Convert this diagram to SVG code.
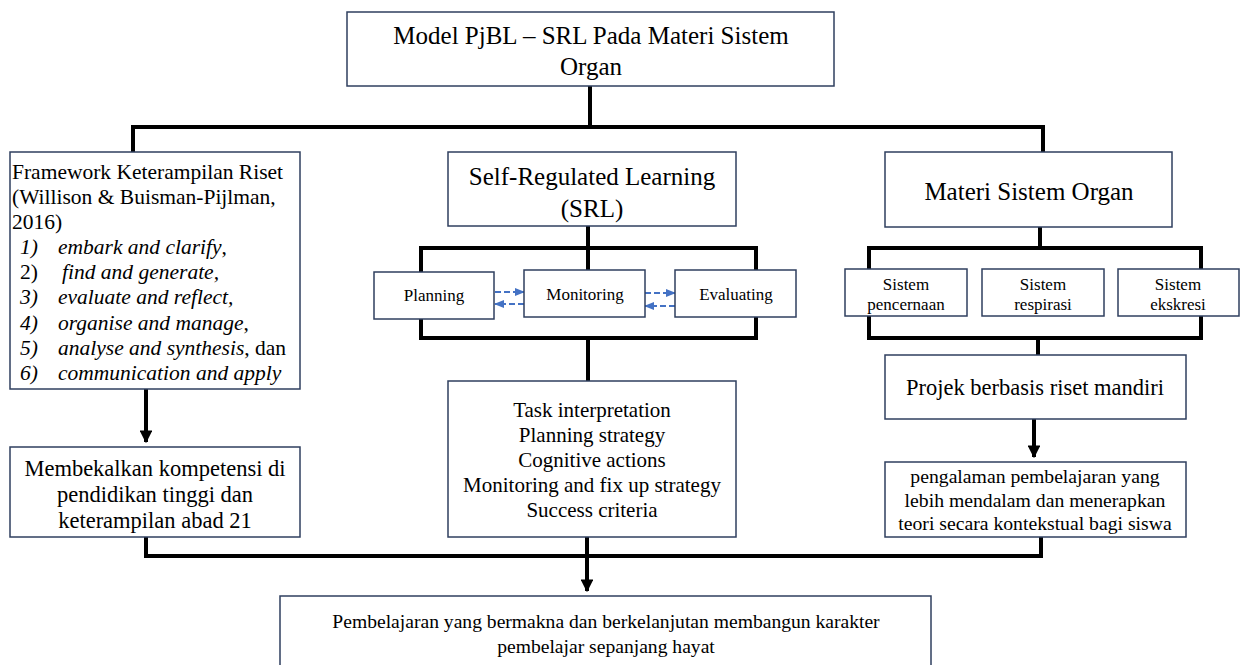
<svg xmlns="http://www.w3.org/2000/svg" width="1246" height="665" viewBox="0 0 1246 665" font-family="'Liberation Serif', 'Times New Roman', serif">
<style>
.box{fill:#fff;stroke:#2f3f5f;stroke-width:1.5}
text{font-family:'Liberation Serif','Times New Roman',serif;fill:#000}
.c{text-anchor:middle}
.i{font-style:italic}
.con{fill:none;stroke:#000;stroke-width:4}
.dash{fill:none;stroke:#4472c4;stroke-width:2;stroke-dasharray:6,3}
</style>
<defs>
<marker id="ah" viewBox="0 0 10 10" refX="9" refY="5" markerWidth="3.2" markerHeight="3.2" orient="auto" markerUnits="strokeWidth"><path d="M0,0L10,5L0,10z" fill="#000"/></marker>
<marker id="bh" viewBox="0 0 10 10" refX="9" refY="5" markerWidth="5" markerHeight="5" orient="auto" markerUnits="strokeWidth"><path d="M0,1L10,5L0,9z" fill="#4472c4"/></marker>
</defs>
<rect width="1246" height="665" fill="#fff"/>
<g id="connectors">
<path class="con" d="M590,86V127M133,127H1043M133,125V152M1043,125V152"/>
<path class="con" d="M146,389V442" marker-end="url(#ah)"/>
<path class="con" d="M588,226V248M421,248H756M421,246V272M588,246V270M756,246V270"/>
<path class="con" d="M421,319V338H756V317M588,338V381"/>
<path class="con" d="M1040,227V248M869,248H1201M869,246V269M1201,246V269"/>
<path class="con" d="M869,316V338H1201V316M1038,338V355"/>
<path class="con" d="M1034,419V457" marker-end="url(#ah)"/>
<path class="con" d="M146,537V556H1041V537M587,537V556"/>
<path class="con" d="M587,554V591" marker-end="url(#ah)"/>
<path class="dash" d="M495,292H524" marker-end="url(#bh)"/>
<path class="dash" d="M524,304H495" marker-end="url(#bh)"/>
<path class="dash" d="M645,293H675" marker-end="url(#bh)"/>
<path class="dash" d="M675,306H645" marker-end="url(#bh)"/>
</g>
<g id="n-model"><rect class="box" x="347" y="12" width="487" height="74"/>
<text class="c" x="591" y="44" font-size="25">Model PjBL – SRL Pada Materi Sistem</text>
<text class="c" x="591" y="75" font-size="25">Organ</text></g>
<g id="n-framework"><rect class="box" x="10" y="152" width="290" height="237"/>
<g font-size="21.5">
<text x="12" y="179">Framework Keterampilan Riset</text>
<text x="12" y="204">(Willison &amp; Buisman-Pijlman,</text>
<text x="12" y="229">2016)</text>
<text x="20" y="254"><tspan class="i">1)</tspan><tspan x="58" class="i">embark and clarify</tspan>,</text>
<text x="20" y="279">2)<tspan x="62" class="i">find and generate,</tspan></text>
<text x="20" y="304" class="i">3)<tspan x="58">evaluate and reflect,</tspan></text>
<text x="20" y="330"><tspan class="i">4)</tspan><tspan x="58" class="i">organise and manage</tspan>,</text>
<text x="20" y="355"><tspan class="i">5)</tspan><tspan x="58" class="i">analyse and synthesis</tspan>, dan</text>
<text x="20" y="380" class="i">6)<tspan x="58">communication and apply</tspan></text>
</g></g>
<g id="n-membekalkan"><rect class="box" x="10" y="447" width="290" height="90"/>
<text class="c" x="155" y="476" font-size="22.5">Membekalkan kompetensi di</text>
<text class="c" x="155" y="502" font-size="22.5">pendidikan tinggi dan</text>
<text class="c" x="155" y="528" font-size="22.5">keterampilan abad 21</text></g>
<g id="n-srl"><rect class="box" x="448" y="152" width="288" height="74"/>
<text class="c" x="592" y="185" font-size="25">Self-Regulated Learning</text>
<text class="c" x="592" y="217" font-size="25">(SRL)</text></g>
<g id="n-planning"><rect class="box" x="374" y="272" width="120" height="47"/>
<text class="c" x="434" y="301" font-size="17">Planning</text></g>
<g id="n-monitoring"><rect class="box" x="524" y="270" width="121" height="47"/>
<text class="c" x="585" y="300" font-size="17">Monitoring</text></g>
<g id="n-evaluating"><rect class="box" x="675" y="270" width="121" height="47"/>
<text class="c" x="736" y="300" font-size="17">Evaluating</text></g>
<g id="n-task"><rect class="box" x="448" y="381" width="288" height="156"/>
<g font-size="21">
<text class="c" x="592" y="417">Task interpretation</text>
<text class="c" x="592" y="442">Planning strategy</text>
<text class="c" x="592" y="467">Cognitive actions</text>
<text class="c" x="592" y="492">Monitoring and fix up strategy</text>
<text class="c" x="592" y="517">Success criteria</text></g></g>
<g id="n-materi"><rect class="box" x="885" y="152" width="287" height="75"/>
<text class="c" x="1029" y="200" font-size="25">Materi Sistem Organ</text></g>
<g id="n-pencernaan"><rect class="box" x="845" y="269" width="122" height="47"/>
<text class="c" x="906" y="290" font-size="17">Sistem</text>
<text class="c" x="906" y="310" font-size="17">pencernaan</text></g>
<g id="n-respirasi"><rect class="box" x="982" y="269" width="122" height="47"/>
<text class="c" x="1043" y="290" font-size="17">Sistem</text>
<text class="c" x="1043" y="310" font-size="17">respirasi</text></g>
<g id="n-ekskresi"><rect class="box" x="1118" y="269" width="121" height="47"/>
<text class="c" x="1178" y="290" font-size="17">Sistem</text>
<text class="c" x="1178" y="310" font-size="17">ekskresi</text></g>
<g id="n-projek"><rect class="box" x="885" y="355" width="301" height="64"/>
<text class="c" x="1035" y="395" font-size="22.5">Projek berbasis riset mandiri</text></g>
<g id="n-pengalaman"><rect class="box" x="885" y="462" width="301" height="75"/>
<text class="c" x="1035" y="483" font-size="19.7">pengalaman pembelajaran yang</text>
<text class="c" x="1035" y="507" font-size="19.7">lebih mendalam dan menerapkan</text>
<text class="c" x="1035" y="530" font-size="19.7">teori secara kontekstual bagi siswa</text></g>
<g id="n-bottom"><rect class="box" x="280" y="596" width="651" height="80"/>
<text class="c" x="606" y="628" font-size="19.6">Pembelajaran yang bermakna dan berkelanjutan membangun karakter</text>
<text class="c" x="606" y="653" font-size="19.6">pembelajar sepanjang hayat</text></g>
</svg>
